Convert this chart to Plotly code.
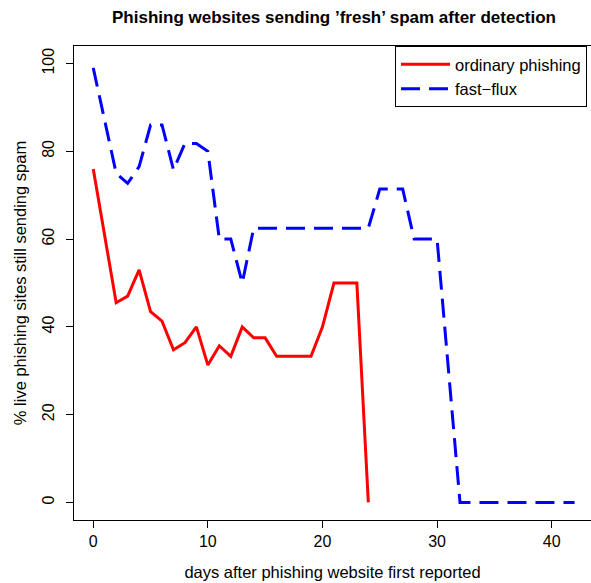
import plotly.graph_objects as go

# ---- data ----
ordinary_days = [0, 2, 3, 4, 5, 6, 7, 8, 9, 10, 11, 12, 13, 14, 15, 16, 17, 18, 19, 20, 21, 22, 23, 24]
ordinary_pct = [76, 45.5, 47, 53, 43.5, 41.3, 34.8, 36.4, 40, 31.3, 35.7, 33.3, 40, 37.5, 37.5,
                33.3, 33.3, 33.3, 33.3, 40, 50, 50, 50, 0]

fastflux_days = [0, 2, 3, 4, 5, 6, 7, 8, 9, 10, 11, 12, 13, 14, 15, 16, 17, 18, 19, 20, 21, 22, 23, 24,
                 25, 26, 27, 28, 29, 30, 32, 33, 34, 35, 36, 37, 38, 39, 40, 41, 42]
fastflux_pct = [99, 75, 72.7, 76.5, 86, 86, 75.8, 81.8, 81.8, 80, 60, 60, 50, 62.5, 62.5, 62.5, 62.5,
                62.5, 62.5, 62.5, 62.5, 62.5, 62.5, 62.5, 71.4, 71.4, 71.4, 60, 60, 60,
                0, 0, 0, 0, 0, 0, 0, 0, 0, 0, 0]

x_ticks = [0, 10, 20, 30, 40]
y_ticks = [0, 20, 40, 60, 80, 100]

title_text = "Phishing websites sending \u2019fresh\u2019 spam after detection"
x_title = "days after phishing website first reported"
y_title = "% live phishing sites still sending spam"

FONT = "Liberation Sans, Arial, sans-serif"

fig = go.Figure()
fig.add_trace(go.Scatter(x=ordinary_days, y=ordinary_pct, mode="lines",
                         name="ordinary phishing",
                         line=dict(color="#FF0000", width=3)))
fig.add_trace(go.Scatter(x=fastflux_days, y=fastflux_pct, mode="lines",
                         name="fast\u2212flux",
                         line=dict(color="#0000FF", width=3, dash="19px,9px")))

fig.update_layout(
    width=591, height=583,
    margin=dict(l=74, r=0, t=46, b=63),
    paper_bgcolor="white", plot_bgcolor="white",
    font=dict(family=FONT, size=16, color="black"),
    title=dict(text="<b>" + title_text + "</b>", x=(334 / 591), xanchor="center",
               y=1 - 17 / 583, yanchor="middle", yref="container",
               font=dict(family=FONT, size=17, color="black")),
    showlegend=True,
    legend=dict(x=(395 - 74) / 517, xanchor="left", y=1, yanchor="top",
                bordercolor="black", borderwidth=1, bgcolor="white",
                font=dict(family=FONT, size=16.5, color="black"),
                tracegroupgap=0, itemwidth=49),
    xaxis=dict(range=[-1.68, 43.43], tickvals=x_ticks, ticktext=[str(v) for v in x_ticks],
               showgrid=False, zeroline=False, showline=True, linecolor="black", linewidth=1,
               mirror=True, ticks="outside", ticklen=7, tickcolor="black",
               tickfont=dict(size=16),
               title=dict(text=x_title, font=dict(size=16.5), standoff=17)),
    yaxis=dict(range=[-4, 104], tickvals=y_ticks, ticktext=[str(v) for v in y_ticks],
               showgrid=False, zeroline=False, showline=True, linecolor="black", linewidth=1,
               ticks="outside", ticklen=7, tickcolor="black", tickangle=-90,
               tickfont=dict(size=16), ticklabelstandoff=6,
               title=dict(text=y_title, font=dict(size=16.5), standoff=8)),
)

fig.write_html("out.html",
               config={"displayModeBar": False},
               post_script="document.body.style.margin='0px';document.body.style.overflow='hidden';")
